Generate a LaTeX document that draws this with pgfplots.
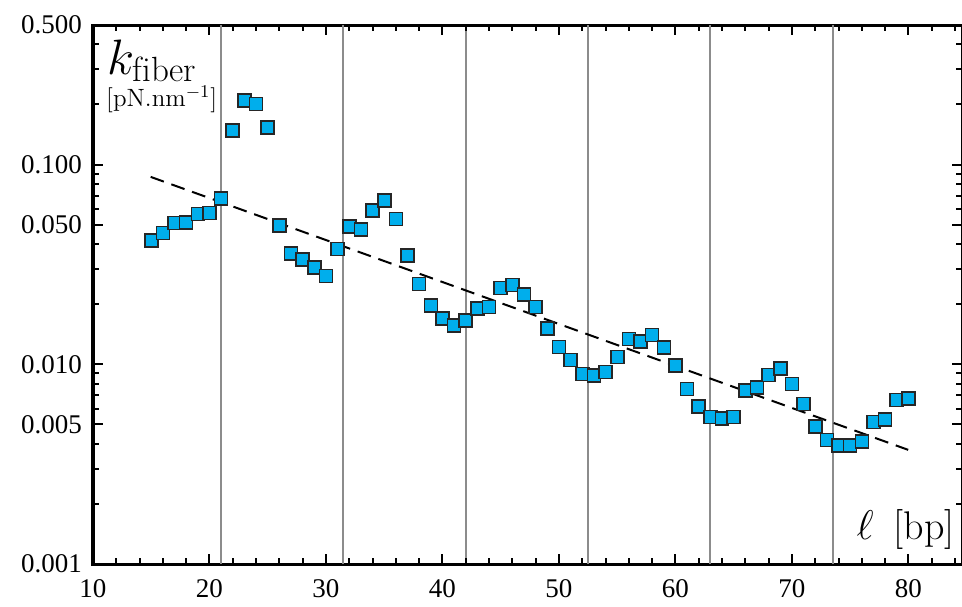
\documentclass[border=0pt]{standalone}
\usepackage{pgfplots}
\pgfplotsset{compat=1.18}
\usepackage{fontspec}
\newfontfamily\tickfont{Liberation Serif}
\definecolor{markblue}{RGB}{0,174,236}
\begin{document}
\begin{tikzpicture}
\begin{axis}[
  scale only axis, width=434.5pt, height=269.5pt,
  xmin=10, xmax=84.6, ymode=log, ymin=0.001, ymax=0.5,
  axis line style={line width=1.5pt},
  xtick={10,20,30,40,50,60,70,80},
  minor x tick num=4,
  ytick={0.001,0.005,0.01,0.05,0.1,0.5},
  minor ytick={0.002,0.003,0.004,0.006,0.007,0.008,0.009,0.02,0.03,0.04,0.06,0.07,0.08,0.09,0.2,0.3,0.4},
  major tick length=5pt, minor tick length=3pt,
  every major tick/.append style={black, line width=1pt},
  every minor tick/.append style={black, line width=1pt},
  xticklabels={10,20,30,40,50,60,70,80},
  yticklabels={0.001,0.005,0.010,0.050,0.100,0.500},
  ticklabel style={font=\tickfont\fontsize{13.5}{15}\selectfont},
  yticklabel style={xshift=-2pt},
  xticklabel style={yshift=-4pt},
  clip=false,
]
% helical repeat guides
\addplot[black!45, line width=1pt] coordinates {(21,0.001) (21,0.5)};
\addplot[black!45, line width=1pt] coordinates {(31.5,0.001) (31.5,0.5)};
\addplot[black!45, line width=1pt] coordinates {(42,0.001) (42,0.5)};
\addplot[black!45, line width=1pt] coordinates {(52.5,0.001) (52.5,0.5)};
\addplot[black!45, line width=1pt] coordinates {(63,0.001) (63,0.5)};
\addplot[black!45, line width=1pt] coordinates {(73.5,0.001) (73.5,0.5)};
% tick marks on all four sides
\pgfplotsinvokeforeach{20,30,40,50,60,70,80}{
  \draw[black, line width=1pt] (axis cs:#1,0.001) -- ([yshift=5pt]axis cs:#1,0.001);
  \draw[black, line width=1pt] (axis cs:#1,0.5) -- ([yshift=-5pt]axis cs:#1,0.5);
}
\pgfplotsinvokeforeach{12,14,16,18,22,24,26,28,32,34,36,38,42,44,46,48,52,54,56,58,62,64,66,68,72,74,76,78,82,84}{
  \draw[black, line width=1pt] (axis cs:#1,0.001) -- ([yshift=3pt]axis cs:#1,0.001);
  \draw[black, line width=1pt] (axis cs:#1,0.5) -- ([yshift=-3pt]axis cs:#1,0.5);
}
\pgfplotsinvokeforeach{0.005,0.01,0.05,0.1}{
  \draw[black, line width=1pt] (axis cs:10,#1) -- ([xshift=5pt]axis cs:10,#1);
  \draw[black, line width=1pt] (axis cs:84.6,#1) -- ([xshift=-5pt]axis cs:84.6,#1);
}
\pgfplotsinvokeforeach{0.002,0.003,0.004,0.006,0.007,0.008,0.009,0.02,0.03,0.04,0.06,0.07,0.08,0.09,0.2,0.3,0.4}{
  \draw[black, line width=1pt] (axis cs:10,#1) -- ([xshift=3pt]axis cs:10,#1);
  \draw[black, line width=1pt] (axis cs:84.6,#1) -- ([xshift=-3pt]axis cs:84.6,#1);
}
% exponential fit
\addplot[black, line width=1pt, dash pattern=on 7pt off 4pt] coordinates {(14.95,0.0868) (79.98,0.00373)};
% data
\addplot[only marks, mark=square*, mark size=3.25pt,
  mark options={fill=markblue, draw=black!85, line width=0.8pt}] coordinates {
(15,0.0417) (16,0.0455) (17,0.0510) (18,0.0514) (19,0.0566) (20,0.0573)
(21,0.0676) (22,0.1485) (23,0.2093) (24,0.2015) (25,0.1538) (26,0.0496)
(27,0.0358) (28,0.0334) (29,0.0306) (30,0.0277) (31,0.0378) (32,0.0491)
(33,0.0472) (34,0.0590) (35,0.0662) (36,0.0534) (37,0.0350) (38,0.0252)
(39,0.01965) (40,0.0170) (41,0.0156) (42,0.0166) (43,0.0190) (44,0.0194)
(45,0.0241) (46,0.0249) (47,0.0223) (48,0.0194) (49,0.0151) (50,0.0122)
(51,0.0105) (52,0.00896) (53,0.00879) (54,0.00917) (55,0.01087) (56,0.01338)
(57,0.01297) (58,0.0140) (59,0.0121) (60,0.00987) (61,0.00754) (62,0.00614)
(63,0.00544) (64,0.00535) (65,0.00544) (66,0.00739) (67,0.00765) (68,0.00883)
(69,0.00953) (70,0.00796) (71,0.00632) (72,0.00488) (73,0.00418) (74,0.00392)
(75,0.00392) (76,0.00410) (77,0.00513) (78,0.00531) (79,0.00664) (80,0.00674)
};
\node[anchor=base west, inner sep=0pt] at (axis cs:11.2,0.2826) {\fontsize{25}{30}\selectfont $k_{\mathrm{fiber}}$};
\node[anchor=base west, inner sep=0pt] at (axis cs:11.1,0.1953) {\fontsize{12.5}{15}\selectfont [pN.nm$^{-1}$]};
\node[anchor=base east, inner sep=0pt] at (axis cs:84.0,0.00132) {\fontsize{20}{24}\selectfont $\ell$\enspace[bp]};
\end{axis}
\pgfresetboundingbox
\path[use as bounding box] (-46.5pt,-21pt) rectangle (434.5pt,282pt);
\end{tikzpicture}
\end{document}
